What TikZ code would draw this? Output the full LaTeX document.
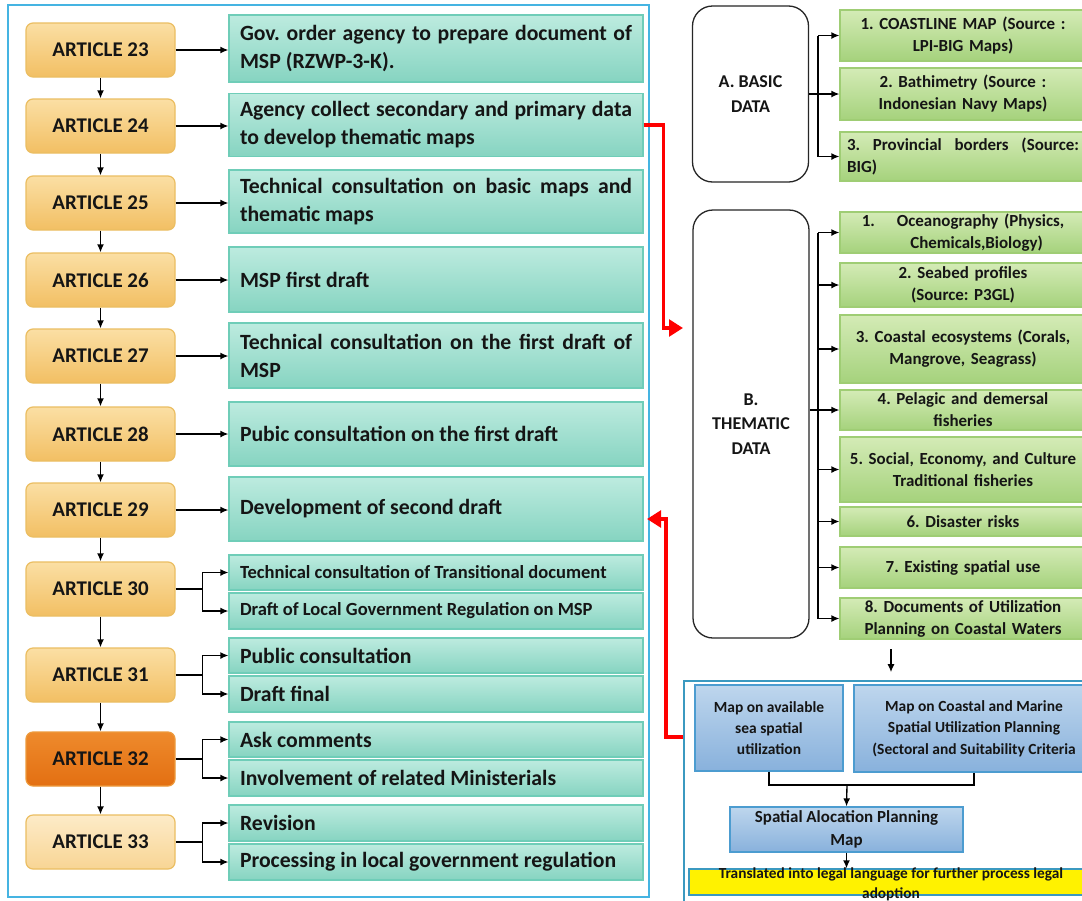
\documentclass[tikz,border=0pt]{standalone}
\usepackage{fontspec}
\setmainfont{Carlito}
\usetikzlibrary{arrows.meta}
\hyphenpenalty=10000
\exhyphenpenalty=10000
\frenchspacing
\newdimen\px
\px=0.75pt
\definecolor{framebl}{HTML}{45B4E2}
\definecolor{arttop}{HTML}{FBDFA4}
\definecolor{artbot}{HTML}{F2BF63}
\definecolor{artline}{HTML}{EBBE62}
\definecolor{darktop}{HTML}{EE8A2C}
\definecolor{darkbot}{HTML}{E36F12}
\definecolor{lighttop}{HTML}{FDEBC8}
\definecolor{lightbot}{HTML}{F8D594}
\definecolor{tealtop}{HTML}{BDEBDF}
\definecolor{tealbot}{HTML}{86D4C1}
\definecolor{tealline}{HTML}{6FCDB8}
\definecolor{grtop}{HTML}{D4EBB6}
\definecolor{grbot}{HTML}{A5D27C}
\definecolor{grline}{HTML}{9FCD74}
\definecolor{bltop}{HTML}{BED6ED}
\definecolor{blbot}{HTML}{88B1DC}
\definecolor{blline}{HTML}{4C9CD0}
\definecolor{inktext}{HTML}{151515}
\begin{document}
\begin{tikzpicture}[x=0.75pt,y=-0.75pt,
	artbox/.style={draw=artline,line width=1.2\px,rounded corners=7\px,top color=arttop,bottom color=artbot,
		minimum width=149\px,minimum height=54\px,text=inktext,font=\fontsize{15.7}{19}\selectfont\bfseries},
	artdark/.style={artbox,draw=darktop!70!artline,top color=darktop,bottom color=darkbot},
	artlight/.style={artbox,top color=lighttop,bottom color=lightbot},
	tealbox/.style={draw=tealline,line width=1.2\px,top color=tealtop,bottom color=tealbot,
		text width=392\px,inner xsep=11\px,inner ysep=0pt,align=justify,text=inktext,
		font=\fontsize{16.3}{21}\selectfont\bfseries},
	tealsmall/.style={tealbox,font=\fontsize{13.9}{17}\selectfont\bfseries},
	databox/.style={draw=black!85,line width=1.3\px,rounded corners=20\px,fill=white,
		minimum width=116\px,align=center,text=inktext,font=\fontsize{13.5}{18.5}\selectfont\bfseries},
	greenbox/.style={draw=grline,line width=1.2\px,top color=grtop,bottom color=grbot,
		text width=232\px,inner xsep=7\px,inner ysep=0pt,align=center,text=inktext,
		font=\fontsize{12.7}{16.5}\selectfont\bfseries},
	bluebox/.style={draw=blline,line width=1.3\px,top color=bltop,bottom color=blbot,
		inner ysep=0pt,align=center,text=inktext,font=\fontsize{11.6}{16}\selectfont\bfseries},
	arr/.style={-{Latex[length=6pt,width=5.2pt]},line width=1pt},
	redarr/.style={draw=red,line width=2.7pt,-{Triangle[length=10.5pt,width=12.5pt]}}]
	
	\useasboundingbox (0,0) rectangle (1082,900);
	\fill[white] (0,0) rectangle (1082,900);
	\clip (0,0) rectangle (1082,900); % boxes on the right run past the edge
	
	% left frame with the articles
	\node[draw=framebl,line width=1.6\px,minimum width=641\px,minimum height=892\px] (lframe) at (328.5,451) {};
	
	\foreach \n/\y/\s in {23/50/artbox,24/126/artbox,25/203/artbox,26/280/artbox,27/356/artbox,
		28/434/artbox,29/510/artbox,30/589/artbox,31/675/artbox,32/759/artdark,33/842/artlight}{%
		\node[\s] (art\n) at (100.5,\y) {ARTICLE \n};
	}
	\foreach \a/\b in {23/24,24/25,25/26,26/27,27/28,28/29,29/30,30/31,31/32,32/33}{%
		\draw[arr] (art\a) -- (art\b);
	}
	
	\node[tealbox,minimum height=67\px] (t23) at (436,48.5) {Gov. order agency to prepare document of MSP (RZWP-3-K).};
	\node[tealbox,minimum height=63\px] (t24) at (436,125) {Agency collect secondary and primary data to develop thematic maps};
	\node[tealbox,minimum height=63\px] (t25) at (436,201.5) {Technical consultation on basic maps and thematic maps};
	\node[tealbox,minimum height=65\px] (t26) at (436,279.5) {MSP first draft};
	\node[tealbox,minimum height=65\px] (t27) at (436,355.5) {Technical consultation on the first draft of MSP};
	\node[tealbox,minimum height=64\px] (t28) at (436,434) {Pubic consultation on the first draft};
	\node[tealbox,minimum height=64\px] (t29) at (436,509) {Development of second draft};
	\node[tealsmall,minimum height=35\px] (up30) at (436,572.5) {Technical consultation of Transitional document};
	\node[tealsmall,minimum height=36\px] (dn30) at (436,611) {Draft of Local Government Regulation on MSP};
	\node[tealbox,minimum height=35\px] (up31) at (436,655.5) {Public consultation};
	\node[tealbox,minimum height=36\px] (dn31) at (436,694) {Draft final};
	\node[tealbox,minimum height=35\px] (up32) at (436,739.5) {Ask comments};
	\node[tealbox,minimum height=36\px] (dn32) at (436,778) {Involvement of related Ministerials};
	\node[tealbox,minimum height=36\px] (up33) at (436,823) {Revision};
	\node[tealbox,minimum height=36\px] (dn33) at (436,862) {Processing in local government regulation};
	
	\foreach \n in {23,...,29}{%
		\draw[arr] (art\n.east) -- (art\n.east -| t\n.west);
	}
	\foreach \n in {30,...,33}{%
		\draw[line width=1pt] (art\n.east) -- ++(27,0) coordinate (fork\n);
		\draw[arr] (fork\n) |- (up\n.west);
		\draw[arr] (fork\n) |- (dn\n.west);
	}
	
	% basic data
	\node[databox,minimum height=176\px] (basic) at (750.5,94) {A. BASIC\\DATA};
	\node[greenbox,minimum height=51\px] (g1) at (963,35.5) {1. COASTLINE MAP (Source :\\LPI-BIG Maps)};
	\node[greenbox,minimum height=52\px] (g2) at (963,94) {2. Bathimetry (Source :\\Indonesian Navy Maps)};
	\node[greenbox,minimum height=49\px,align=justify] (g3) at (963,156.5) {3. Provincial borders (Source: BIG)};
	\coordinate (bbar) at (818,0);
	\draw[line width=1pt] (g1.west -| bbar) -- (g3.west -| bbar);
	\draw[arr] (g1.west -| bbar) -- (g1.west);
	\draw[arr] (basic.east |- g2.west) -- (g2.west);
	\draw[arr] (g3.west -| bbar) -- (g3.west);
	
	% thematic data
	\node[databox,minimum height=428\px] (thematic) at (751,424) {B.\\THEMATIC\\DATA};
	\node[greenbox,minimum height=41\px] (h1) at (963,232.5) {1.\hspace{1.3em}Oceanography (Physics,\\\hspace{1.6em}Chemicals,Biology)};
	\node[greenbox,minimum height=44\px] (h2) at (963,285) {2. Seabed profiles\\(Source: P3GL)};
	\node[greenbox,minimum height=68\px] (h3) at (963,349) {3. Coastal ecosystems (Corals,\\Mangrove, Seagrass)};
	\node[greenbox,minimum height=40\px] (h4) at (963,410) {4. Pelagic and demersal\\fisheries};
	\node[greenbox,minimum height=65\px] (h5) at (963,469.5) {5. Social, Economy, and Culture\\Traditional fisheries};
	\node[greenbox,minimum height=29\px] (h6) at (963,521.5) {6. Disaster risks};
	\node[greenbox,minimum height=41\px] (h7) at (963,567.5) {7. Existing spatial use};
	\node[greenbox,minimum height=41\px] (h8) at (963,618.5) {8. Documents of Utilization\\Planning on Coastal Waters};
	\coordinate (tbar) at (818,0);
	\draw[line width=1pt] (h1.west -| tbar) -- (h8.west -| tbar);
	\foreach \k in {1,2,3,5,6,7,8}{%
		\draw[arr] (h\k.west -| tbar) -- (h\k.west);
	}
	\draw[arr] (thematic.east |- h4.west) -- (h4.west);
	
	% maps at the bottom right
	\node[draw=framebl!85!black,line width=1.6\px,minimum width=411\px,minimum height=229\px] (mframe) at (889.5,795.5) {};
	\coordinate (dtop) at (891,649);
	\draw[arr,shorten >=6pt] (dtop) -- (dtop |- mframe.north);
	\node[bluebox,minimum width=148\px,minimum height=86\px] (m1) at (769,728) {Map on available\\sea spatial\\utilization};
	\node[bluebox,minimum width=240\px,minimum height=87\px] (m2) at (974,728.5) {Map on Coastal and Marine\\Spatial Utilization Planning\\(Sectoral and Suitability Criteria};
	\node[bluebox,minimum width=233\px,minimum height=45\px,font=\fontsize{12.7}{17}\selectfont\bfseries] (salloc) at (846.5,829.5) {Spatial Alocation Planning\\Map};
	\coordinate (mjoin) at (847,785);
	\draw[line width=1pt] (m1.south) |- (mjoin) -| (m2.south);
	\draw[arr] (mjoin) -- (salloc.north);
	\node[draw=framebl!85!black,line width=1.3\px,fill=yellow,minimum width=406\px,minimum height=26\px] (legal) at (892,882) {};
	\draw[arr] (salloc.south) -- (legal.north -| salloc.south);
	\node[align=center,text=inktext,font=\fontsize{11.5}{15}\selectfont\bfseries] (legaltxt) at (891,884) {Translated into legal language for further process legal\\adoption};
	
	% red links
	\coordinate (redin) at (683,328);
	\coordinate (redout) at (647,519);
	\draw[redarr] (t24.east) -- ++(20,0) |- (redin);
	\draw[redarr] (mframe.west |- 0,737) -- ++(-17,0) |- (redout);
\end{tikzpicture}
\end{document}
